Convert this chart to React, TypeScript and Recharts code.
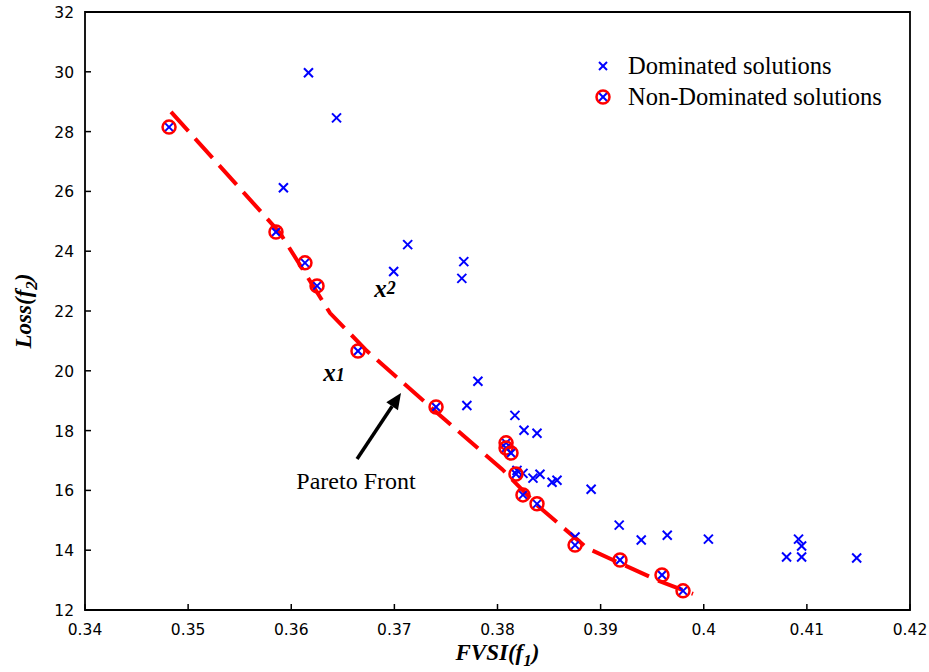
import React from "react";
import {
  ScatterChart,
  Scatter,
  XAxis,
  YAxis,
  Legend,
  ReferenceLine,
  ReferenceDot,
  ReferenceArea,
} from "recharts";

// dominated solutions (FVSI, loss)
const dominated = [
  { x: 0.36167, y: 29.97 },
  { x: 0.36439, y: 28.46 },
  { x: 0.35924, y: 26.12 },
  { x: 0.37129, y: 24.22 },
  { x: 0.36993, y: 23.32 },
  { x: 0.37673, y: 23.65 },
  { x: 0.37654, y: 23.09 },
  { x: 0.3781, y: 19.65 },
  { x: 0.37703, y: 18.84 },
  { x: 0.38169, y: 18.51 },
  { x: 0.38257, y: 18.01 },
  { x: 0.38383, y: 17.91 },
  { x: 0.38189, y: 16.67 },
  { x: 0.38247, y: 16.57 },
  { x: 0.38344, y: 16.41 },
  { x: 0.38412, y: 16.54 },
  { x: 0.38529, y: 16.27 },
  { x: 0.38577, y: 16.34 },
  { x: 0.38908, y: 16.04 },
  { x: 0.38752, y: 14.44 },
  { x: 0.3918, y: 14.84 },
  { x: 0.39394, y: 14.34 },
  { x: 0.39646, y: 14.5 },
  { x: 0.40045, y: 14.37 },
  { x: 0.40919, y: 14.37 },
  { x: 0.40949, y: 14.14 },
  { x: 0.40803, y: 13.77 },
  { x: 0.40949, y: 13.77 },
  { x: 0.41483, y: 13.74 },
];

const nonDominated = [
  { x: 0.34815, y: 28.15 },
  { x: 0.35852, y: 24.64 },
  { x: 0.36133, y: 23.61 },
  { x: 0.3625, y: 22.84 },
  { x: 0.36647, y: 20.66 },
  { x: 0.37404, y: 18.79 },
  { x: 0.38083, y: 17.59 },
  { x: 0.38083, y: 17.42 },
  { x: 0.38131, y: 17.25 },
  { x: 0.38179, y: 16.55 },
  { x: 0.38247, y: 15.85 },
  { x: 0.38383, y: 15.55 },
  { x: 0.38752, y: 14.17 },
  { x: 0.39188, y: 13.67 },
  { x: 0.39595, y: 13.17 },
  { x: 0.39799, y: 12.64 },
];

// fitted pareto front curve
const paretoFront = [
  { x: 0.34834, y: 28.66 },
  { x: 0.35891, y: 24.61 },
  { x: 0.36376, y: 21.93 },
  { x: 0.36735, y: 20.66 },
  { x: 0.37472, y: 18.42 },
  { x: 0.38044, y: 16.71 },
  { x: 0.38393, y: 15.48 },
  { x: 0.38868, y: 14.07 },
  { x: 0.39547, y: 13.0 },
  { x: 0.39896, y: 12.54 },
];

const xTicks = [0.34, 0.35, 0.36, 0.37, 0.38, 0.39, 0.4, 0.41, 0.42];
const yTicks = [12, 14, 16, 18, 20, 22, 24, 26, 28, 30, 32];

const arrowFrom = { x: 0.36638, y: 17.05 };
const arrowTo = { x: 0.37064, y: 19.26 };

const BLUE = "#0000ff";
const RED = "#ff0000";
const serif = "'Liberation Serif', 'Times New Roman', serif";
const sans = "'DejaVu Sans', sans-serif";

const Cross = ({ cx, cy, s = 4.5 }: any) => (
  <g stroke={BLUE} strokeWidth={2}>
    <line x1={cx - s} y1={cy - s} x2={cx + s} y2={cy + s} />
    <line x1={cx - s} y1={cy + s} x2={cx + s} y2={cy - s} />
  </g>
);

const CircleCross = ({ cx, cy }: any) => (
  <g>
    <Cross cx={cx} cy={cy} s={4} />
    <circle cx={cx} cy={cy} r={6.5} fill="none" stroke={RED} strokeWidth={2.5} />
  </g>
);

const LegendBox = () => (
  <svg width={340} height={70} style={{ display: "block" }}>
    <Cross cx={13} cy={18} s={4} />
    <text x={38} y={26} fontFamily={serif} fontSize={24.5} fill="#000">
      Dominated solutions
    </text>
    <CircleCross cx={13} cy={49} />
    <text x={38} y={57} fontFamily={serif} fontSize={24.5} fill="#000">
      Non-Dominated solutions
    </text>
  </svg>
);

const Arrow = (p: any) => {
  const { x1, y1, x2, y2 } = p;
  const a = Math.atan2(y2 - y1, x2 - x1);
  const len = 16;
  const w = 7;
  const bx = x2 - len * Math.cos(a);
  const by = y2 - len * Math.sin(a);
  const px = -Math.sin(a) * w;
  const py = Math.cos(a) * w;
  return (
    <g>
      <line x1={x1} y1={y1} x2={bx} y2={by} stroke="#000" strokeWidth={3.5} />
      <polygon points={`${x2},${y2} ${bx + px},${by + py} ${bx - px},${by - py}`} fill="#000" />
    </g>
  );
};

const textAt = (content: React.ReactNode) => (p: any) =>
  (
    <text x={p.cx} y={p.cy} textAnchor="middle" dominantBaseline="central" fontFamily={serif} fill="#000">
      {content}
    </text>
  );

// inward tick marks, MATLAB style
const XTick = (p: any) => (
  <g>
    <line x1={p.x} y1={p.y} x2={p.x} y2={p.y - 6} stroke="#000" strokeWidth={1.5} />
    <text x={p.x} y={p.y + 25} textAnchor="middle" fontFamily={sans} fontSize={15.5} fill="#000">
      {String(Number(p.payload.value.toFixed(2)))}
    </text>
  </g>
);

const YTick = (p: any) => (
  <g>
    <line x1={p.x} y1={p.y} x2={p.x + 6} y2={p.y} stroke="#000" strokeWidth={1.5} />
    <text x={p.x - 11} y={p.y + 6} textAnchor="end" fontFamily={sans} fontSize={15.5} fill="#000">
      {p.payload.value}
    </text>
  </g>
);

const XTitle = (p: any) => {
  const { x, y, width } = p.viewBox;
  return (
    <text x={x + width / 2} y={y + 50} textAnchor="middle" fontFamily={serif} fontWeight="bold" fontStyle="italic" fontSize={23} fill="#000">
      FVSI(f<tspan fontSize={17} dy={6}>1</tspan>
      <tspan dy={-6}>)</tspan>
    </text>
  );
};

const YTitle = (p: any) => {
  const { y, height } = p.viewBox;
  const cx = 31;
  const cy = y + height / 2;
  return (
    <text x={cx} y={cy} transform={`rotate(-90 ${cx} ${cy})`} textAnchor="middle" fontFamily={serif} fontWeight="bold" fontStyle="italic" fontSize={23} fill="#000">
      Loss(f<tspan fontSize={17} dy={6}>2</tspan>
      <tspan dy={-6}>)</tspan>
    </text>
  );
};

export default function App() {
  return (
    <div style={{ position: "absolute", left: 0, top: 0, background: "#fff" }}>
      <ScatterChart width={929} height={672} margin={{ top: 12, right: 19, bottom: 0, left: 0 }}>
        <XAxis
          type="number"
          dataKey="x"
          domain={[0.34, 0.42]}
          ticks={xTicks}
          height={62}
          tick={<XTick />}
          tickSize={0}
          tickMargin={0}
          tickLine={false}
          axisLine={false}
          allowDataOverflow
          label={XTitle}
        />
        <YAxis
          type="number"
          dataKey="y"
          domain={[12, 32]}
          ticks={yTicks}
          width={85}
          tick={<YTick />}
          tickSize={0}
          tickMargin={0}
          tickLine={false}
          axisLine={false}
          allowDataOverflow
          label={YTitle}
        />
        <ReferenceArea x1={0.34} x2={0.42} y1={12} y2={32} fill="none" stroke="#000" strokeWidth={1.8} />
        <Legend layout="vertical" align="center" verticalAlign="middle" wrapperStyle={{ top: 48, left: 590, width: 340 }} content={() => <LegendBox />} />
        <Scatter
          name="Pareto Front"
          data={paretoFront}
          line={{ stroke: RED, strokeWidth: 4, strokeDasharray: "26 10" }}
          shape={() => <g />}
          isAnimationActive={false}
          legendType="none"
        />
        <Scatter name="Dominated solutions" data={dominated} shape={(p: any) => <Cross cx={p.cx} cy={p.cy} />} isAnimationActive={false} />
        <Scatter name="Non-Dominated solutions" data={nonDominated} shape={(p: any) => <CircleCross cx={p.cx} cy={p.cy} />} isAnimationActive={false} />
        <ReferenceLine segment={[arrowFrom, arrowTo]} shape={Arrow} />
        <ReferenceDot x={0.36909} y={22.77} r={0} shape={textAt(<tspan fontSize={25} fontWeight="bold" fontStyle="italic">x<tspan fontSize={18}>2</tspan></tspan>)} />
        <ReferenceDot x={0.36415} y={19.96} r={0} shape={textAt(<tspan fontSize={25} fontWeight="bold" fontStyle="italic">x<tspan fontSize={18} dy={3}>1</tspan></tspan>)} />
        <ReferenceDot x={0.36628} y={16.31} r={0} shape={textAt(<tspan fontSize={24}>Pareto Front</tspan>)} />
      </ScatterChart>
    </div>
  );
}
